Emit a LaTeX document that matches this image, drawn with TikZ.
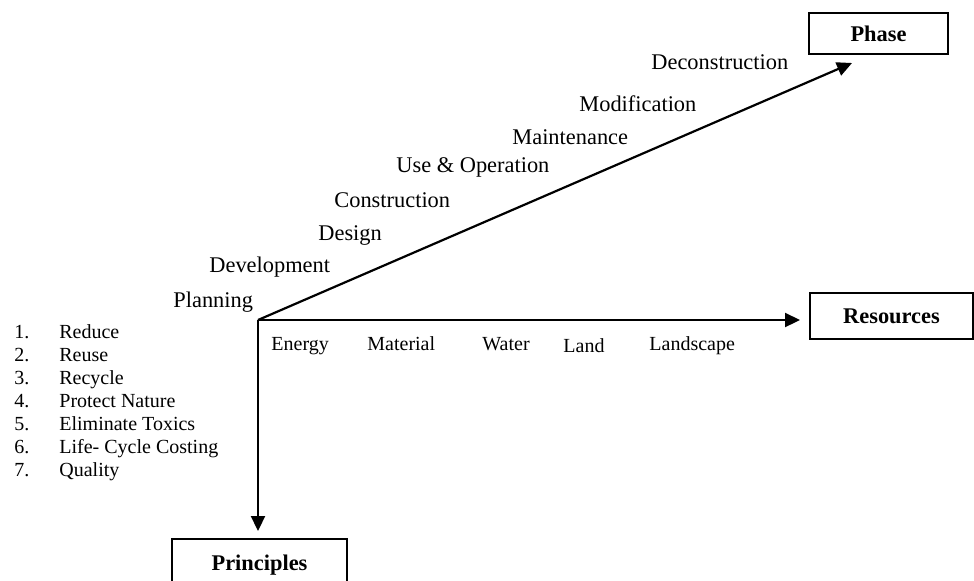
\documentclass[tikz,border=0pt]{standalone}
\usepackage{fontspec}
\setmainfont{Liberation Serif}
\usetikzlibrary{arrows.meta}
\begin{document}
\begin{tikzpicture}[x=0.5pt,y=-0.5pt,
  axis/.style={line width=1.1pt,-{Triangle[length=7.5pt,width=7pt]}},
  boxnode/.style={draw,line width=1.1pt,font=\fontsize{11.2}{13}\selectfont\bfseries,inner sep=0pt},
  phaselab/.style={anchor=base west,inner sep=0pt,font=\fontsize{11.2}{13}\selectfont},
  reslab/.style={anchor=base west,inner sep=0pt,font=\fontsize{10}{12}\selectfont},
  listlab/.style={anchor=base west,inner sep=0pt,font=\fontsize{10}{12}\selectfont}]
\useasboundingbox (0,0) rectangle (974,580);
% origin and arrow tips
\coordinate (O) at (258,320);
\coordinate (phtip) at (852,63);
\coordinate (restip) at (800,320);
\coordinate (prtip) at (258,531);
% boxes
\node[boxnode,minimum width=69.5pt,minimum height=20.5pt] (phase) at (878.5,33.5) {Phase};
\node[boxnode,minimum width=81.5pt,minimum height=23pt] (resources) at (891.5,316) {Resources};
\node[boxnode,minimum width=87.5pt,minimum height=25pt,text depth=0pt] (principles) at (259.5,564) {\raisebox{1pt}{Principles}};
% arrows
\draw[axis] (O) -- (phtip);
\draw[axis] (O) -- (restip);
\draw[axis] (O) -- (prtip);
% phase labels
\node[phaselab] (l1) at (173,307) {Planning};
\node[phaselab] (l2) at (209,272) {Development};
\node[phaselab] (l3) at (318,240) {Design};
\node[phaselab] (l4) at (334,207) {Construction};
\node[phaselab] (l5) at (396,172) {Use \& Operation};
\node[phaselab] (l6) at (512,144) {Maintenance};
\node[phaselab] (l7) at (579,111) {Modification};
\node[phaselab] (l8) at (651,69) {Deconstruction};
% resource labels
\node[reslab] (r1) at (271,350) {Energy};
\node[reslab] (r2) at (367,350) {Material};
\node[reslab] (r3) at (482,350) {Water};
\node[reslab] (r4) at (563,352) {Land};
\node[reslab] (r5) at (649,350) {Landscape};
% principles list
\node[listlab] (n1) at (14,338) {1.};
\node[listlab] (n2) at (14,361) {2.};
\node[listlab] (n3) at (14,384) {3.};
\node[listlab] (n4) at (14,407) {4.};
\node[listlab] (n5) at (14,430) {5.};
\node[listlab] (n6) at (14,453) {6.};
\node[listlab] (n7) at (14,476) {7.};
\node[listlab] (t1) at (59,338) {Reduce};
\node[listlab] (t2) at (59,361) {Reuse};
\node[listlab] (t3) at (59,384) {Recycle};
\node[listlab] (t4) at (59,407) {Protect Nature};
\node[listlab] (t5) at (59,430) {Eliminate Toxics};
\node[listlab] (t6) at (59,453) {Life- Cycle Costing};
\node[listlab] (t7) at (59,476) {Quality};
\end{tikzpicture}
\end{document}
